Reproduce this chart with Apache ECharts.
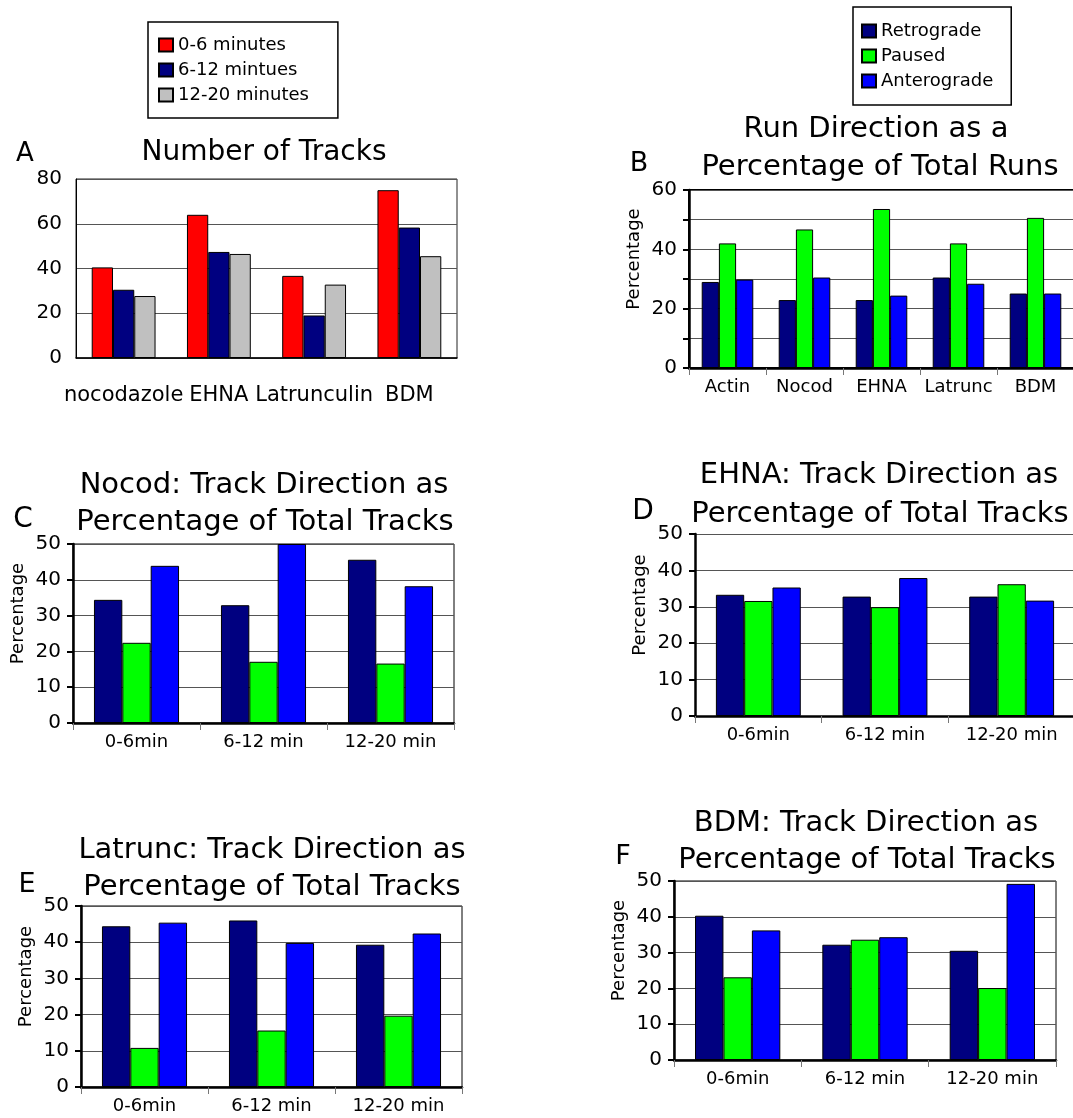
<!DOCTYPE html>
<html>
<head>
<meta charset="utf-8">
<script src="https://cdn.jsdelivr.net/npm/echarts@6/dist/echarts.min.js"></script>
<style>
  html, body { margin: 0; padding: 0; background: #fff; }
  #chart { width: 1073px; height: 1118px; }
</style>
</head>
<body>
<div id="chart"></div>
<script>
// A: number of tracks
const trackGroups = ["nocodazole", "EHNA", "Latrunculin", "BDM"];
const tracks0to6 = [40.5, 64, 36.7, 75];
const tracks6to12 = [30.5, 47.4, 19, 58.3];
const tracks12to20 = [27.7, 46.5, 32.8, 45.5];

// B: run direction
const runGroups = ["Actin", "Nocod", "EHNA", "Latrunc", "BDM"];
const runRetro = [29, 22.9, 22.9, 30.5, 25.1];
const runPaused = [42, 46.7, 53.6, 42, 50.6];
const runAntero = [29.8, 30.5, 24.4, 28.4, 25.1];

// C-F: track direction by time bin
const timeBins = ["0-6min", "6-12 min", "12-20 min"];
const nocodRetro = [34.4, 32.9, 45.6];
const nocodPaused = [22.4, 17.1, 16.6];
const nocodAntero = [43.9, 50, 38.2];
const ehnaRetro = [33.3, 32.8, 32.8];
const ehnaPaused = [31.6, 29.9, 36.2];
const ehnaAntero = [35.3, 37.9, 31.7];
const latruncRetro = [44.4, 46, 39.3];
const latruncPaused = [10.8, 15.6, 19.7];
const latruncAntero = [45.4, 39.8, 42.4];
const bdmRetro = [40.3, 32.2, 30.5];
const bdmPaused = [23.1, 33.6, 20.1];
const bdmAntero = [36.2, 34.3, 49.2];

const FONT = "DejaVu Sans";
const RED = "#FF0000", NAVY = "#000080", GREY = "#C0C0C0", GREEN = "#00FF00", BLUE = "#0000FF";

let chart = echarts.init(document.getElementById("chart"));

function bar(name, data, color, idx) {
  return {
    name: name,
    type: "bar",
    data: data,
    xAxisIndex: idx,
    yAxisIndex: idx,
    barGap: "0%",
    barCategoryGap: "33%",
    itemStyle: { color: color, borderColor: "#000", borderWidth: 1 },
  };
}

function xAxis(idx, cats, opts) {
  return Object.assign({
    type: "category",
    gridIndex: idx,
    data: cats,
    axisLine: { lineStyle: { color: "#000", width: 2.5 } },
    axisTick: { show: true, length: 7, lineStyle: { color: "#777", width: 1 } },
    axisLabel: { color: "#000", fontFamily: FONT, fontSize: 18, margin: 10, interval: 0 },
  }, opts || {});
}

function yAxis(idx, max, interval, opts) {
  return Object.assign({
    type: "value",
    gridIndex: idx,
    min: 0,
    max: max,
    interval: interval,
    name: "Percentage",
    nameLocation: "middle",
    nameRotate: 90,
    nameGap: 46,
    nameTextStyle: { color: "#000", fontFamily: FONT, fontSize: 18, padding: [0, 0, 0, 40] },
    axisLine: { show: true, lineStyle: { color: "#000", width: 2.5 } },
    axisTick: { show: true, length: 6, lineStyle: { color: "#000", width: 2 } },
    axisLabel: { color: "#000", fontFamily: FONT, fontSize: 20, margin: 12 },
    splitLine: { show: true, lineStyle: { color: "#555", width: 1 } },
  }, opts || {});
}

function label(text, x, y, size) {
  return {
    type: "text",
    x: x,
    y: y,
    style: {
      text: text,
      fontFamily: FONT,
      fontSize: size,
      fill: "#000",
      textAlign: "center",
      textVerticalAlign: "middle",
    },
  };
}

let option = {
  animation: false,
  backgroundColor: "#fff",
  grid: [
    { left: 76, top: 179, width: 381, height: 179, show: true, borderColor: "#222", borderWidth: 1, outerBoundsMode: "none" },
    { left: 689, top: 190, width: 385, height: 178, show: true, borderColor: "#000", borderWidth: 2, outerBoundsMode: "none" },
    { left: 73, top: 544, width: 381, height: 179, show: true, borderColor: "#000", borderWidth: 1, outerBoundsMode: "none" },
    { left: 695, top: 534, width: 380, height: 182, outerBoundsMode: "none" },
    { left: 81, top: 906, width: 381, height: 181, show: true, borderColor: "#000", borderWidth: 1, outerBoundsMode: "none" },
    { left: 674, top: 881, width: 382, height: 179, show: true, borderColor: "#000", borderWidth: 1, outerBoundsMode: "none" },
  ],
  legend: [
    {
      data: ["0-6 minutes", "6-12 mintues", "12-20 minutes"],
      orient: "vertical",
      left: 148,
      top: 22,
      padding: [14, 29, 14, 10],
      itemGap: 7,
      itemWidth: 14,
      itemHeight: 13,
      itemTextGap: 11,
      icon: "rect",
      borderColor: "#000",
      borderWidth: 1.5,
      textStyle: { color: "#000", fontFamily: FONT, fontSize: 18, lineHeight: 18 },
    },
    {
      data: ["Retrograde", "Paused", "Anterograde"],
      orient: "vertical",
      left: 853,
      top: 7,
      padding: [15, 18, 15, 8],
      itemGap: 7,
      itemWidth: 14,
      itemHeight: 13,
      itemTextGap: 15,
      icon: "rect",
      borderColor: "#000",
      borderWidth: 1.5,
      textStyle: { color: "#000", fontFamily: FONT, fontSize: 18, lineHeight: 18 },
    },
  ],
  xAxis: [
    xAxis(0, trackGroups, {
      axisLine: { lineStyle: { color: "#000", width: 1.5 } },
      axisTick: { show: false },
      axisLabel: { color: "#000", fontFamily: FONT, fontSize: 21, margin: 27, interval: 0 },
    }),
    xAxis(1, runGroups),
    xAxis(2, timeBins),
    xAxis(3, timeBins),
    xAxis(4, timeBins),
    xAxis(5, timeBins),
  ],
  yAxis: [
    yAxis(0, 80, 20, {
      name: "",
      axisLine: { show: true, lineStyle: { color: "#000", width: 1 } },
      axisTick: { show: false },
      axisLabel: { color: "#000", fontFamily: FONT, fontSize: 20, margin: 14 },
    }),
    yAxis(1, 60, 10, {
      axisLabel: {
        color: "#000", fontFamily: FONT, fontSize: 20, margin: 12,
        formatter: (v) => (v % 20 === 0 ? String(v) : ""),
      },
    }),
    yAxis(2, 50, 10),
    yAxis(3, 50, 10),
    yAxis(4, 50, 10),
    yAxis(5, 50, 10),
  ],
  graphic: [
    label("A", 25, 154, 26),
    label("Number of Tracks", 264, 153, 28),
    label("B", 639, 164, 27),
    label("Run Direction as a", 876, 129, 29),
    label("Percentage of Total Runs", 880, 167, 29),
    label("C", 23, 520, 28),
    label("Nocod: Track Direction as", 264, 485, 29),
    label("Percentage of Total Tracks", 265, 522, 29),
    label("D", 643, 512, 28),
    label("EHNA: Track Direction as", 879, 475, 29),
    label("Percentage of Total Tracks", 880, 514, 29),
    label("E", 27, 885, 27),
    label("Latrunc: Track Direction as", 272, 850, 29),
    label("Percentage of Total Tracks", 272, 887, 29),
    label("F", 623, 857, 27),
    label("BDM: Track Direction as", 866, 823, 29),
    label("Percentage of Total Tracks", 867, 860, 29),
  ],
  series: [
    bar("0-6 minutes", tracks0to6, RED, 0),
    bar("6-12 mintues", tracks6to12, NAVY, 0),
    bar("12-20 minutes", tracks12to20, GREY, 0),
    bar("Retrograde", runRetro, NAVY, 1),
    bar("Paused", runPaused, GREEN, 1),
    bar("Anterograde", runAntero, BLUE, 1),
    bar("Retrograde", nocodRetro, NAVY, 2),
    bar("Paused", nocodPaused, GREEN, 2),
    bar("Anterograde", nocodAntero, BLUE, 2),
    bar("Retrograde", ehnaRetro, NAVY, 3),
    bar("Paused", ehnaPaused, GREEN, 3),
    bar("Anterograde", ehnaAntero, BLUE, 3),
    bar("Retrograde", latruncRetro, NAVY, 4),
    bar("Paused", latruncPaused, GREEN, 4),
    bar("Anterograde", latruncAntero, BLUE, 4),
    bar("Retrograde", bdmRetro, NAVY, 5),
    bar("Paused", bdmPaused, GREEN, 5),
    bar("Anterograde", bdmAntero, BLUE, 5),
  ],
};

chart.setOption(option);
</script>
</body>
</html>
